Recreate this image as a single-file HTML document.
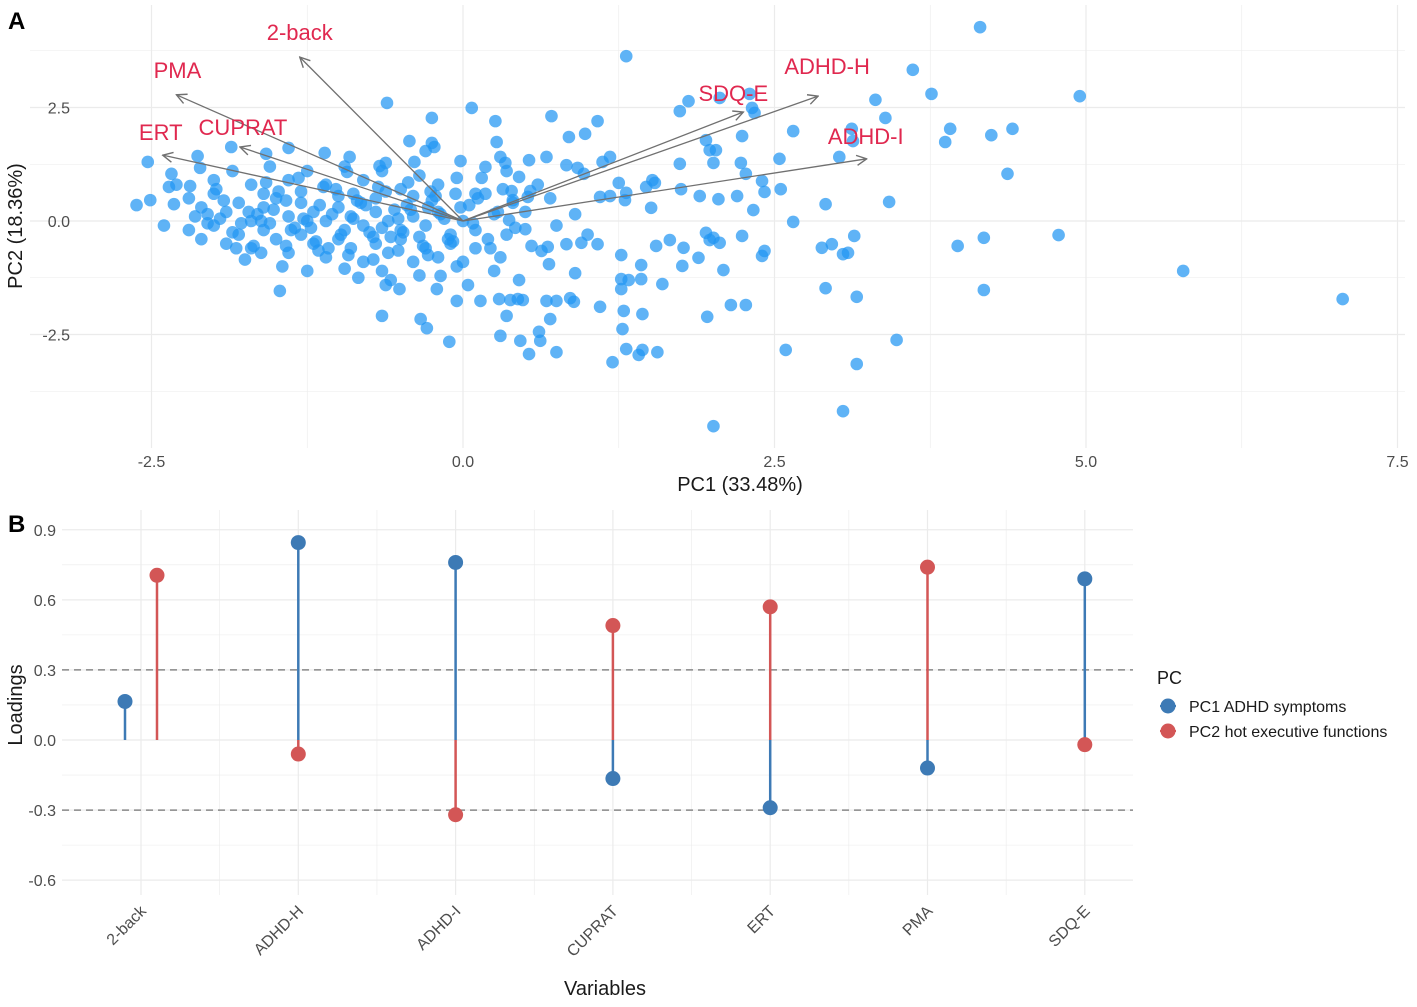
<!DOCTYPE html>
<html><head><meta charset="utf-8"><style>
body{margin:0;background:#fff;}
svg text{font-family:"Liberation Sans",Arial,sans-serif;}
</style></head><body>
<svg id="s" width="1417" height="1002" xmlns="http://www.w3.org/2000/svg">
<defs><marker id="ah" viewBox="0 0 12 12" refX="11" refY="6" markerWidth="12" markerHeight="12" markerUnits="userSpaceOnUse" orient="auto"><path d="M1,1 L11,6 L1,11" fill="none" stroke="#707070" stroke-width="1.4"/></marker></defs>
<g id="gA"></g>
<g id="gB"></g>
</svg>
<script>
// ---------- Panel A data ----------
const scoreX = [4.15,1.31,3.61,3.76,4.95,3.31,3.39,3.91,4.24,4.41,3.87,4.37,3.42,3.97,4.18,4.78,4.18,5.78,7.06,3.48,3.16,3.16,3.05,2.01,2.59,2.91,2.88,2.96,3.05,3.09,3.14,2.91,2.65,2.55,2.54,2.65,3.02,3.12,3.13,2.32,2.34,2.30,2.06,1.81,1.74,2.24,2.23,2.27,2.40,2.42,2.20,2.33,2.24,2.42,2.40,1.98,2.03,1.95,2.01,1.74,1.75,1.90,2.05,1.95,2.01,1.98,2.06,1.89,2.09,1.77,1.76,1.66,1.55,1.43,1.43,1.60,1.96,2.15,2.27,1.56,1.44,1.41,1.31,1.20,1.28,1.29,1.44,1.10,1.27,1.33,1.27,1.27,1.08,0.90,0.83,0.95,0.69,0.68,0.63,0.67,0.75,0.86,0.89,0.70,0.75,0.61,0.62,0.53,0.46,0.30,0.35,0.44,0.48,0.38,0.29,0.14,0.04,-0.05,-0.11,-0.29,-0.34,-0.65,-0.51,-0.62,-0.21,-0.18,-1.47,0.98,1.08,1.18,1.12,1.25,1.18,1.52,1.47,1.54,1.51,1.31,1.30,1.10,0.97,0.92,0.83,0.85,0.71,0.67,0.53,0.45,0.54,0.52,0.39,0.40,0.50,0.37,0.28,0.07,0.26,0.27,0.30,0.34,0.18,-0.02,-0.61,-0.25,-0.25,-0.23,-0.30,-0.43,-0.62,-0.39,-0.67,-0.91,-1.11,-0.93,-1.40,-1.58,-1.86,-2.13,-2.11,-2.53,-2.34,-2.36,-2.51,-2.62,-2.19,-2.32,
-2.2,-2.1,-2.0,-1.9,-1.8,-1.7,-1.6,-1.5,-1.4,-1.3,-1.2,-1.1,-1.0,-0.9,-0.8,-0.7,-0.6,-0.5,-0.4,-0.3,-0.2,-0.1,0.0,0.1,
-2.2,-2.1,-2.0,-1.9,-1.8,-1.7,-1.6,-1.5,-1.4,-1.3,-1.2,-1.1,-1.0,-0.9,-0.8,-0.7,-0.6,-0.5,-0.4,-0.3,-0.2,-0.1,0.0,0.1,0.2,0.3,
-2.3,-2.0,-1.7,-1.4,-1.1,-0.8,-0.5,-0.2,0.1,0.4,
-1.95,-1.65,-1.35,-1.05,-0.75,-0.45,-0.15,0.25,0.35,0.5,
-2.4,-1.75,-1.45,-1.25,-0.95,-0.65,-0.35,-0.05,0.25,0.45,
-1.85,-1.55,-1.25,-0.95,-0.65,-0.35,-0.05,0.35,0.6,0.7,
-1.6,-1.3,-1.0,-0.7,-0.4,-1.55,-1.25,-0.95,-0.65,-0.35,
-1.15,-0.85,-0.55,-0.25,0.05,0.15,0.55,0.75,0.9,1.0,
-2.05,-1.78,-1.52,-1.22,-0.88,-0.58,-0.28,-0.08,0.18,-1.68,-1.42,-1.08,-0.78,-0.48,-0.18,0.08,
-2.15,-1.92,-1.72,-1.48,-1.28,-1.02,-0.82,-0.62,-0.42,-0.22,-0.02,0.12,
-2.05,-1.85,-1.62,-1.38,-1.18,-0.98,-0.72,-0.52,-0.32,-0.12,0.22,0.42,
-1.98,-1.58,-1.32,-1.12,-0.88,-0.68,-0.44,-0.26,-0.06,0.32,
-1.82,-1.62,-1.42,-1.16,-0.92,-0.72,-0.52,-0.28,-0.58,-0.84];
const scoreY = [4.27,3.63,3.33,2.80,2.75,2.67,2.27,2.03,1.89,2.03,1.74,1.04,0.42,-0.55,-0.37,-0.31,-1.52,-1.10,-1.72,-2.62,-1.67,-3.15,-4.19,-4.52,-2.84,-1.48,-0.59,-0.51,-0.73,-0.70,-0.33,0.37,-0.02,0.70,1.37,1.98,1.41,2.03,1.76,2.49,2.38,2.80,2.71,2.64,2.42,1.87,1.28,1.04,0.88,0.64,0.55,0.24,-0.33,-0.66,-0.77,1.56,1.56,1.78,1.28,1.26,0.70,0.55,0.48,-0.26,-0.37,-0.42,-0.48,-0.81,-1.08,-0.59,-0.99,-0.42,-0.55,-0.97,-1.28,-1.39,-2.11,-1.85,-1.85,-2.89,-2.84,-2.95,-2.82,-3.11,-2.38,-1.98,-2.05,-1.89,-1.28,-1.30,-1.50,-0.75,-0.51,-1.15,-0.51,-0.48,-0.95,-0.57,-0.66,-1.76,-1.76,-1.70,-1.78,-2.16,-2.89,-2.44,-2.64,-2.93,-2.64,-2.53,-2.09,-1.72,-1.74,-1.74,-1.72,-1.76,-1.41,-1.76,-2.66,-2.36,-2.16,-2.09,-1.50,-1.41,-1.50,-1.21,-1.54,1.92,2.20,1.41,1.30,0.84,0.55,0.90,0.75,0.84,0.29,0.62,0.46,0.53,1.04,1.17,1.23,1.85,2.31,1.41,1.34,0.97,0.66,0.53,0.66,0.46,-0.18,0.02,0.20,2.49,2.20,1.74,1.41,1.28,1.19,1.32,2.60,2.27,1.72,1.63,1.54,1.76,1.28,1.30,1.21,1.41,1.50,1.08,1.61,1.48,1.63,1.43,1.17,1.30,1.04,0.75,0.46,0.35,0.77,0.37,
0.5,0.3,0.6,0.2,0.4,0.0,0.3,0.5,0.1,0.4,0.2,0.0,0.3,0.1,-0.1,0.2,0.0,-0.2,0.1,-0.1,0.2,-0.3,0.0,-0.2,
-0.2,-0.4,-0.1,-0.5,-0.3,-0.6,-0.2,-0.4,-0.7,-0.3,-0.5,-0.8,-0.4,-0.6,-0.9,-0.5,-0.7,-0.4,-0.9,-0.6,-0.8,-0.5,-0.9,-0.6,-0.4,-0.8,
0.8,0.9,0.8,0.9,0.8,0.9,0.7,0.8,0.6,0.4,
0.05,0.15,-0.15,0.15,-0.25,0.35,0.05,0.15,-0.3,0.2,
-0.1,-0.85,-1.0,-1.1,-1.05,-1.1,-1.2,-1.0,-1.1,-1.3,
1.1,1.2,1.1,1.2,1.1,1.0,0.95,1.1,0.8,0.5,
0.6,0.65,0.55,0.5,0.55,-0.05,0.0,-0.2,-0.15,-0.35,
0.35,0.45,0.25,0.45,0.35,0.95,-0.55,-0.1,0.15,-0.3,
0.15,-0.05,0.25,-0.15,0.05,-0.35,0.3,-0.45,0.6,-0.55,0.45,-0.6,0.35,-0.25,0.15,-0.05,
0.1,0.45,0.2,0.65,0.05,0.7,0.4,0.65,0.25,0.55,0.3,0.5,
-0.05,-0.25,0.0,-0.2,-0.45,-0.3,-0.35,0.05,-0.55,-0.4,-0.6,-0.15,
0.7,0.85,0.95,0.75,0.6,0.75,0.85,0.65,0.6,0.7,
-0.6,-0.7,-0.55,-0.65,-0.75,-0.85,-0.65,-0.75,-1.3,-1.25];
const varNames = ["2-back","PMA","ERT","CUPRAT","SDQ-E","ADHD-H","ADHD-I"];
const arrowX = [-1.31,-2.30,-2.41,-1.79,2.25,2.85,3.24];
const arrowY = [3.61,2.78,1.45,1.63,2.40,2.75,1.37];
const xTicksA = [-2.5,0,2.5,5,7.5];
const xTickLabelsA = ["-2.5","0.0","2.5","5.0","7.5"];
const yTicksA = [2.5,0,-2.5];
const yTickLabelsA = ["2.5","0.0","-2.5"];
// ---------- Panel B data ----------
const categories = ["2-back","ADHD-H","ADHD-I","CUPRAT","ERT","PMA","SDQ-E"];
const pc1Load = [0.165,0.845,0.76,-0.165,-0.29,-0.12,0.69];
const pc2Load = [0.705,-0.06,-0.32,0.49,0.57,0.74,-0.02];
const yTicksB = [0.9,0.6,0.3,0,-0.3,-0.6];
const yTickLabelsB = ["0.9","0.6","0.3","0.0","-0.3","-0.6"];

const NS="http://www.w3.org/2000/svg";
function mk(parent,tag,attrs,txt){const e=document.createElementNS(NS,tag);for(const k in attrs)e.setAttribute(k,attrs[k]);if(txt!==undefined)e.textContent=txt;parent.appendChild(e);return e;}
const gA=document.getElementById('gA'), gB=document.getElementById('gB');

const ax=v=>463+v*124.6, ay=v=>221-v*45.4;
const A={l:30,r:1405,t:5,b:448};
for(let v=-3.75;v<=8;v+=1.25){const x=ax(v);if(x<A.l||x>A.r)continue;const major=Math.abs((v/2.5)-Math.round(v/2.5))<1e-6;
 const e=mk(gA,'line',{x1:x,x2:x,y1:A.t,y2:A.b,stroke:'#ebebeb','stroke-width':major?1.2:0.6});
 }
for(let v=-3.75;v<=5;v+=1.25){const y=ay(v);if(y<A.t||y>A.b)continue;const major=Math.abs((v/2.5)-Math.round(v/2.5))<1e-6;
 const e=mk(gA,'line',{x1:A.l,x2:A.r,y1:y,y2:y,stroke:'#ebebeb','stroke-width':major?1.2:0.6});
 }
for(let i=0;i<scoreX.length;i++){
 const c=mk(gA,'circle',{cx:ax(scoreX[i]),cy:ay(scoreY[i]),r:6.3,fill:'#2196F3','fill-opacity':0.72});
 }
const labOff={"2-back":[0,-25],"PMA":[1,-25],"ERT":[-2,-23],"CUPRAT":[3,-20],"SDQ-E":[-10,-19],"ADHD-H":[9,-30],"ADHD-I":[-1,-23]};
for(let i=0;i<varNames.length;i++){
 const x2=ax(arrowX[i]),y2=ay(arrowY[i]);
 const l=mk(gA,'line',{x1:ax(0),y1:ay(0),x2:x2,y2:y2,stroke:'#707070','stroke-width':1.3,'marker-end':'url(#ah)'});
 
 const o=labOff[varNames[i]];
 const t=mk(gA,'text',{x:x2+o[0],y:y2+o[1]+8,'text-anchor':'middle','font-size':22,fill:'#e0284f'},varNames[i]);
 }
xTicksA.forEach((v,i)=>{const t=mk(gA,'text',{x:ax(v),y:467,'text-anchor':'middle','font-size':16,fill:'#4d4d4d'},xTickLabelsA[i]);
 });
yTicksA.forEach((v,i)=>{const t=mk(gA,'text',{x:70,y:ay(v)+6,'text-anchor':'end','font-size':16,fill:'#4d4d4d'},yTickLabelsA[i]);
 });
let t=mk(gA,'text',{x:740,y:491,'text-anchor':'middle','font-size':20,fill:'#1a1a1a'},'PC1 (33.48%)');

t=mk(gA,'text',{x:0,y:0,transform:'translate(22,226) rotate(-90)','text-anchor':'middle','font-size':20,fill:'#1a1a1a'},'PC2 (18.36%)');

t=mk(gA,'text',{x:8,y:29,'font-size':24,'font-weight':'bold',fill:'#000'},'A');


const bx=i=>141+i*157.3, by=v=>740-v*233.6;
const B={l:62,r:1133,t:510,b:895};
for(let i=0;i<categories.length;i++){
 let e=mk(gB,'line',{x1:bx(i),x2:bx(i),y1:B.t,y2:B.b,stroke:'#ebebeb','stroke-width':1.2});
 
 if(i<categories.length-1){e=mk(gB,'line',{x1:bx(i+0.5),x2:bx(i+0.5),y1:B.t,y2:B.b,stroke:'#ebebeb','stroke-width':0.6});
 }}
for(let v=-0.75;v<=1.0;v+=0.15){const y=by(v);if(y<B.t||y>B.b)continue;const major=Math.abs(v/0.3-Math.round(v/0.3))<1e-6;
 const e=mk(gB,'line',{x1:B.l,x2:B.r,y1:y,y2:y,stroke:'#ebebeb','stroke-width':major?1.2:0.6});
 }
[0.3,-0.3].forEach(v=>{const e=mk(gB,'line',{x1:B.l,x2:B.r,y1:by(v),y2:by(v),stroke:'#888','stroke-width':1.5,'stroke-dasharray':'7,5'});
 });
const BLUE='#3d7ab5', RED='#d35656';
for(let i=0;i<categories.length;i++){
 const d=i===0?16:0;
 const x1=bx(i)-d, x2=bx(i)+d;
 let e=mk(gB,'line',{x1:x2,x2:x2,y1:by(0),y2:by(pc2Load[i]),stroke:RED,'stroke-width':2.5});
 
 e=mk(gB,'line',{x1:x1,x2:x1,y1:by(0),y2:by(pc1Load[i]),stroke:BLUE,'stroke-width':2.5});
 
 e=mk(gB,'circle',{cx:x1,cy:by(pc1Load[i]),r:7.5,fill:BLUE});
 
 e=mk(gB,'circle',{cx:x2,cy:by(pc2Load[i]),r:7.5,fill:RED});
 
 e=mk(gB,'text',{x:0,y:0,transform:`translate(${bx(i)+6},${912}) rotate(-45)`,'text-anchor':'end','font-size':16,fill:'#4d4d4d'},categories[i]);
 }
yTicksB.forEach((v,i)=>{const e=mk(gB,'text',{x:56,y:by(v)+6,'text-anchor':'end','font-size':16,fill:'#4d4d4d'},yTickLabelsB[i]);
 });
t=mk(gB,'text',{x:605,y:995,'text-anchor':'middle','font-size':20,fill:'#1a1a1a'},'Variables');

t=mk(gB,'text',{x:0,y:0,transform:'translate(22,705) rotate(-90)','text-anchor':'middle','font-size':20,fill:'#1a1a1a'},'Loadings');

t=mk(gB,'text',{x:8,y:532,'font-size':24,'font-weight':'bold',fill:'#000'},'B');

const lg=mk(gB,'g',{});

t=mk(lg,'text',{x:1157,y:684,'font-size':18,fill:'#1a1a1a'},'PC');

[['PC1 ADHD symptoms',BLUE,706],['PC2 hot executive functions',RED,731]].forEach(([lab,col,y])=>{
 const g=mk(lg,'g',{});
 
 mk(g,'line',{x1:1160,x2:1176,y1:y,y2:y,stroke:col,'stroke-width':2});
 mk(g,'circle',{cx:1168,cy:y,r:7.5,fill:col});
 mk(g,'text',{x:1189,y:y+6,'font-size':16,fill:'#1a1a1a'},lab);
});
</script>
</body></html>
